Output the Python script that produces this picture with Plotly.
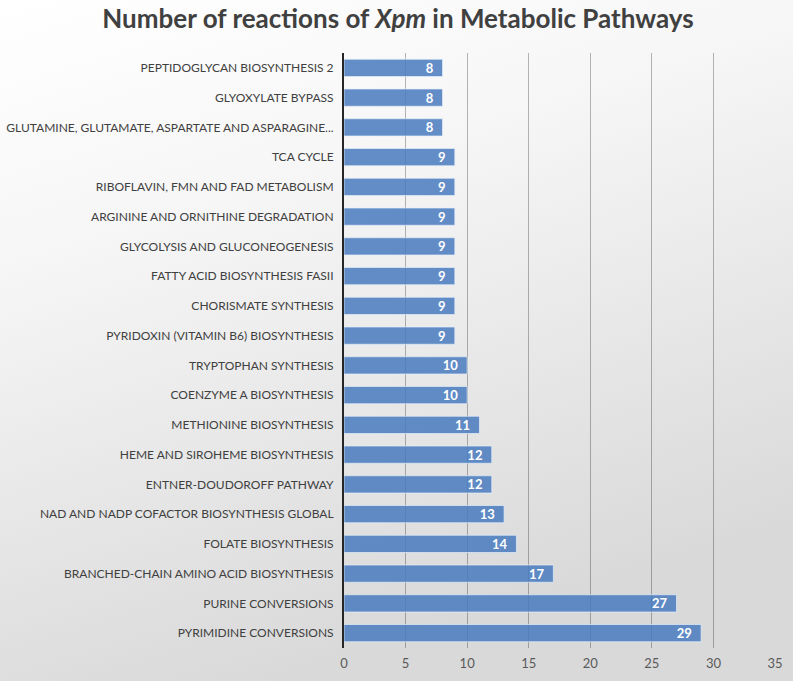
import base64
import plotly.graph_objects as go

# Data (bottom to top)
pathways = [
    "PYRIMIDINE CONVERSIONS",
    "PURINE CONVERSIONS",
    "BRANCHED-CHAIN AMINO ACID BIOSYNTHESIS",
    "FOLATE BIOSYNTHESIS",
    "NAD AND NADP COFACTOR BIOSYNTHESIS GLOBAL",
    "ENTNER-DOUDOROFF PATHWAY",
    "HEME AND SIROHEME BIOSYNTHESIS",
    "METHIONINE BIOSYNTHESIS",
    "COENZYME A BIOSYNTHESIS",
    "TRYPTOPHAN SYNTHESIS",
    "PYRIDOXIN (VITAMIN B6) BIOSYNTHESIS",
    "CHORISMATE SYNTHESIS",
    "FATTY ACID BIOSYNTHESIS FASII",
    "GLYCOLYSIS AND GLUCONEOGENESIS",
    "ARGININE AND ORNITHINE DEGRADATION",
    "RIBOFLAVIN, FMN AND FAD METABOLISM",
    "TCA CYCLE",
    "GLUTAMINE, GLUTAMATE, ASPARTATE AND ASPARAGINE...",
    "GLYOXYLATE BYPASS",
    "PEPTIDOGLYCAN BIOSYNTHESIS 2",
]
reactions = [29, 27, 17, 14, 13, 12, 12, 11, 10, 10, 9, 9, 9, 9, 9, 9, 9, 8, 8, 8]
x_ticks = [0, 5, 10, 15, 20, 25, 30, 35]

W, H = 793, 681
ML, MR, MT, MB = 344, 18, 53, 33
PW, PH = W - ML - MR, H - MT - MB

svg = (
    '<svg xmlns="http://www.w3.org/2000/svg" width="793" height="681" '
    'viewBox="0 0 100 100" preserveAspectRatio="none">'
    '<defs><linearGradient id="g" x1="0" y1="0" x2="0.35" y2="1">'
    '<stop offset="0" stop-color="#ffffff"/>'
    '<stop offset="0.35" stop-color="#f6f6f6"/>'
    '<stop offset="1" stop-color="#d9d9d9"/>'
    '</linearGradient></defs>'
    '<rect x="0" y="0" width="100" height="100" fill="url(#g)"/></svg>'
)
bg_src = "data:image/svg+xml;base64," + base64.b64encode(svg.encode()).decode()

fig = go.Figure(
    go.Bar(
        x=reactions,
        y=pathways,
        orientation="h",
        marker=dict(color="rgba(72,122,190,0.85)",
                    line=dict(color="rgba(230,238,250,0.7)", width=1)),
        text=reactions,
        texttemplate="%{text}\u00a0\u00a0",
        textposition="inside",
        insidetextanchor="end",
        textangle=0,
        constraintext="none",
        textfont=dict(family="Lato, 'Open Sans', sans-serif", size=13,
                      color="white", weight="bold"),
        hoverinfo="x+y",
    )
)

fig.update_layout(
    width=W,
    height=H,
    margin=dict(l=ML, r=MR, t=MT, b=MB),
    paper_bgcolor="#ffffff",
    plot_bgcolor="rgba(0,0,0,0)",
    bargap=0.42,
    showlegend=False,
    title=dict(
        text="Number of reactions of <i>Xpm</i> in Metabolic Pathways",
        x=398 / W,
        xref="container",
        xanchor="center",
        y=1 - 19 / H,
        yref="container",
        yanchor="middle",
        font=dict(family="Lato, 'Open Sans', sans-serif", size=26,
                  color="#404040", weight="bold"),
    ),
    images=[dict(
        source=bg_src,
        xref="paper", yref="paper",
        x=-ML / PW, y=1 + MT / PH,
        sizex=W / PW, sizey=H / PH,
        xanchor="left", yanchor="top",
        sizing="stretch",
        layer="below",
    )],
    xaxis=dict(
        range=[0, 35],
        tickvals=x_ticks,
        ticktext=[str(v) for v in x_ticks],
        showgrid=True,
        gridcolor="rgba(0,0,0,0.28)",
        gridwidth=1.3,
        zeroline=False,
        showline=False,
        ticks="",
        tickfont=dict(family="Lato, 'Open Sans', sans-serif", size=13, color="#595959"),
        ticklabelstandoff=6,
        automargin=False,
        fixedrange=True,
    ),
    yaxis=dict(
        categoryorder="array",
        categoryarray=pathways,
        showline=True,
        linecolor="#262626",
        linewidth=2,
        showgrid=False,
        ticks="",
        tickfont=dict(family="Lato, 'Open Sans', sans-serif", size=12, color="#404040"),
        ticklabelstandoff=6,
        automargin=False,
        fixedrange=True,
    ),
)

fig.write_html(
    "out.html",
    config={"responsive": False, "displayModeBar": False},
    post_script="document.body.style.margin='0';document.body.style.overflow='hidden';",
)
